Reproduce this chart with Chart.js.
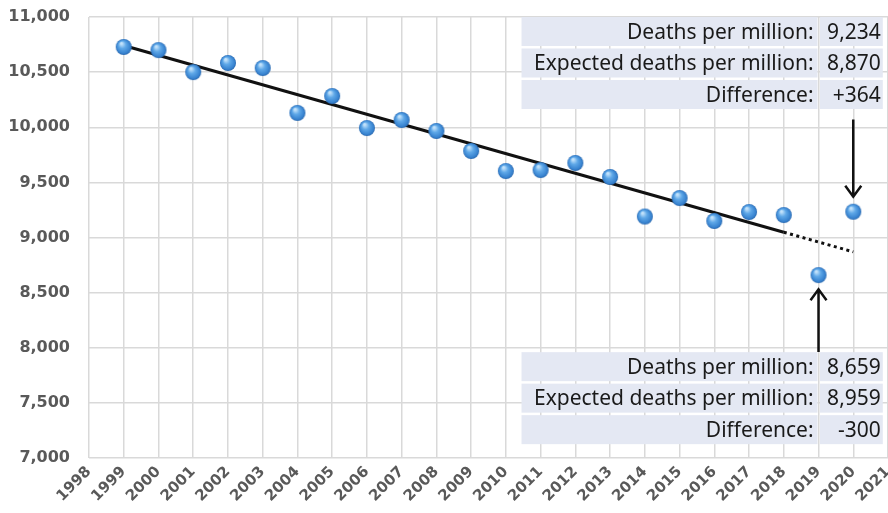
<!DOCTYPE html>
<html>
<head>
<meta charset="utf-8">
<script src="https://cdn.jsdelivr.net/npm/chart.js@4"></script>
<style>
  html, body { margin: 0; padding: 0; background: #fff; }
  #chart { display: block; }
</style>
</head>
<body>
<canvas id="chart" width="888" height="513"></canvas>
<script>
// data
const years = [1999, 2000, 2001, 2002, 2003, 2004, 2005, 2006, 2007, 2008, 2009,
               2010, 2011, 2012, 2013, 2014, 2015, 2016, 2017, 2018, 2019, 2020];
const deaths = [10728, 10700, 10500, 10583, 10537, 10130, 10283, 9993, 10066, 9966, 9785,
                9603, 9612, 9676, 9549, 9190, 9358, 9150, 9231, 9204, 8659, 9234];
const trendYears = [1999, 2018];
const trendValues = [10742, 9048];
const projYears = [2018, 2019, 2020];
const projValues = [9048, 8959, 8870];

const topTable = [
    ['Deaths per million:', '9,234'],
    ['Expected deaths per million:', '8,870'],
    ['Difference:', '+364']
];
const bottomTable = [
    ['Deaths per million:', '8,659'],
    ['Expected deaths per million:', '8,959'],
    ['Difference:', '-300']
];
// arrows: year, start value, tip value
const arrows = [
    { year: 2020, from: 10070, to: 9370 },
    { year: 2019, from: 7962, to: 8530 }
];

// sphere marker
function makeBall(r) {
    const c = document.createElement('canvas');
    c.width = c.height = r * 2 + 2;
    const g = c.getContext('2d');
    const cx = r + 1, cy = r + 1;
    const grad = g.createRadialGradient(cx - r * 0.3, cy - r * 0.45, r * 0.1, cx, cy, r);
    grad.addColorStop(0, '#c4e3fb');
    grad.addColorStop(0.4, '#5fa8e8');
    grad.addColorStop(0.85, '#3782cf');
    grad.addColorStop(1, '#2867ad');
    g.fillStyle = grad;
    g.beginPath();
    g.arc(cx, cy, r, 0, Math.PI * 2);
    g.fill();
    return c;
}
const ball = makeBall(8);

const overlayPlugin = {
    id: 'overlay',
    afterDatasetsDraw(chart) {
        const ctx = chart.ctx;
        const xs = chart.scales.x, ys = chart.scales.y;

        // arrows
        ctx.save();
        ctx.strokeStyle = '#111';
        ctx.lineWidth = 2.5;
        arrows.forEach(a => {
            const x = xs.getPixelForValue(a.year);
            const y0 = ys.getPixelForValue(a.from);
            const y1 = ys.getPixelForValue(a.to);
            const dir = y1 > y0 ? 1 : -1;
            ctx.beginPath();
            ctx.moveTo(x, y0);
            ctx.lineTo(x, y1);
            ctx.moveTo(x - 8, y1 - dir * 11);
            ctx.lineTo(x, y1);
            ctx.lineTo(x + 8, y1 - dir * 11);
            ctx.stroke();
        });
        ctx.restore();

        // tables
        const left = xs.getPixelForValue(2010.45);
        const split = xs.getPixelForValue(2019.0);
        const right = xs.getPixelForValue(2020.85);
        const drawTable = (rows, top) => {
            const rh = 31.5;
            ctx.save();
            rows.forEach((r, i) => {
                const y = top + i * rh;
                ctx.fillStyle = '#e4e8f3';
                ctx.fillRect(left, y, split - left - 1, rh - 2.5);
                ctx.fillRect(split + 1.5, y, right - split - 1.5, rh - 2.5);
                ctx.fillStyle = '#1a1a1a';
                ctx.font = '21px "Noto Sans"';
                ctx.textBaseline = 'middle';
                ctx.textAlign = 'right';
                ctx.fillText(r[0], split - 5, y + rh / 2);
                ctx.fillText(r[1], right - 2, y + rh / 2);
            });
            ctx.restore();
        };
        drawTable(topTable, ys.getPixelForValue(11000));
        drawTable(bottomTable, ys.getPixelForValue(7960));
    }
};

new Chart(document.getElementById('chart'), {
    type: 'scatter',
    data: {
        datasets: [
            {
                type: 'line',
                data: trendYears.map((x, i) => ({ x: x, y: trendValues[i] })),
                borderColor: '#111',
                borderWidth: 3,
                pointRadius: 0,
                order: 2
            },
            {
                type: 'line',
                data: projYears.map((x, i) => ({ x: x, y: projValues[i] })),
                borderColor: '#111',
                borderWidth: 3,
                borderDash: [3, 3.5],
                pointRadius: 0,
                order: 3
            },
            {
                data: years.map((x, i) => ({ x: x, y: deaths[i] })),
                pointStyle: ball,
                pointRadius: 8,
                order: 1
            }
        ]
    },
    options: {
        responsive: false,
        animation: false,
        layout: { autoPadding: false, padding: { top: 17, right: 0, left: 0, bottom: 0 } },
        plugins: { legend: { display: false }, tooltip: { enabled: false } },
        scales: {
            x: {
                type: 'linear',
                min: 1998,
                max: 2021,
                grid: { color: '#d9d9d9', lineWidth: 1.5, drawTicks: false },
                border: { display: false },
                ticks: {
                    stepSize: 1,
                    autoSkip: false,
                    minRotation: 45,
                    maxRotation: 45,
                    padding: 5,
                    color: '#595959',
                    font: { family: 'DejaVu Sans', size: 15, weight: 'bold' },
                    callback: v => String(v)
                },
                afterFit: s => { s.height = 55; s.paddingLeft = 0; s.paddingRight = 0; }
            },
            y: {
                min: 7000,
                max: 11000,
                grid: { color: '#d9d9d9', lineWidth: 1.5, drawTicks: false },
                border: { display: false },
                ticks: {
                    stepSize: 500,
                    padding: 19,
                    color: '#595959',
                    font: { family: 'DejaVu Sans', size: 16, weight: 'bold' },
                    callback: v => v.toLocaleString('en-US')
                },
                afterFit: s => { s.width = 89; s.paddingTop = 0; s.paddingBottom = 0; }
            }
        }
    },
    plugins: [overlayPlugin]
});
</script>
</body>
</html>
